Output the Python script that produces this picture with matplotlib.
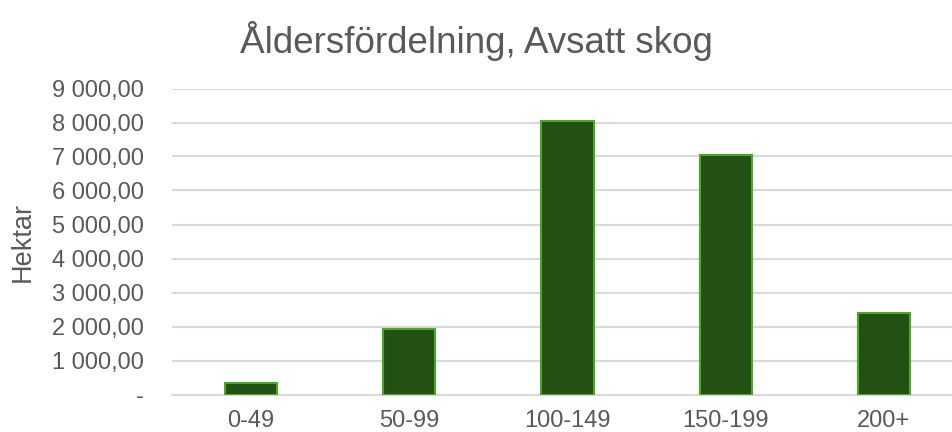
import matplotlib
matplotlib.use("Agg")
import matplotlib.pyplot as plt
from matplotlib.ticker import FuncFormatter

categories = ["0-49", "50-99", "100-149", "150-199", "200+"]
hektar = [340, 1930, 8040, 7050, 2390]
y_ticks = [0, 1000, 2000, 3000, 4000, 5000, 6000, 7000, 8000, 9000]

plt.rcParams["font.family"] = ["Liberation Sans", "DejaVu Sans"]
text_color = "#595959"


def fmt(v, pos):
    if v == 0:
        return "-"
    s = f"{v:,.2f}"
    return s.replace(",", " ").replace(".", ",")


fig = plt.figure(figsize=(9.53, 4.32), dpi=100)
ax = fig.add_axes([172 / 953, 37.5 / 432, 791 / 953, 306 / 432])

x = list(range(len(categories)))
ax.bar(x, hektar, width=0.33, color="#235114", edgecolor="#4ca62a",
       linewidth=1.5, zorder=3)

ax.set_xlim(-0.5, len(categories) - 0.5)
ax.set_ylim(0, 9000)
ax.set_yticks(y_ticks)
ax.yaxis.set_major_formatter(FuncFormatter(fmt))
ax.set_xticks(x)
ax.set_xticklabels(categories)

ax.grid(axis="y", color="#d9d9d9", linewidth=1.5, zorder=0)
for side in ["top", "right", "left"]:
    ax.spines[side].set_visible(False)
ax.spines["bottom"].set_color("#d9d9d9")
ax.spines["bottom"].set_linewidth(1.5)
ax.tick_params(axis="both", length=0, labelsize=17, colors=text_color)
ax.tick_params(axis="y", pad=20)
ax.tick_params(axis="x", pad=11)

ax.set_ylabel("Hektar", fontsize=19.5, color=text_color, labelpad=12)
fig.text(0.5, 0.905, "Åldersfördelning, Avsatt skog", ha="center", va="center",
         fontsize=26.5, color=text_color)

fig.savefig("out.png", dpi=100)
